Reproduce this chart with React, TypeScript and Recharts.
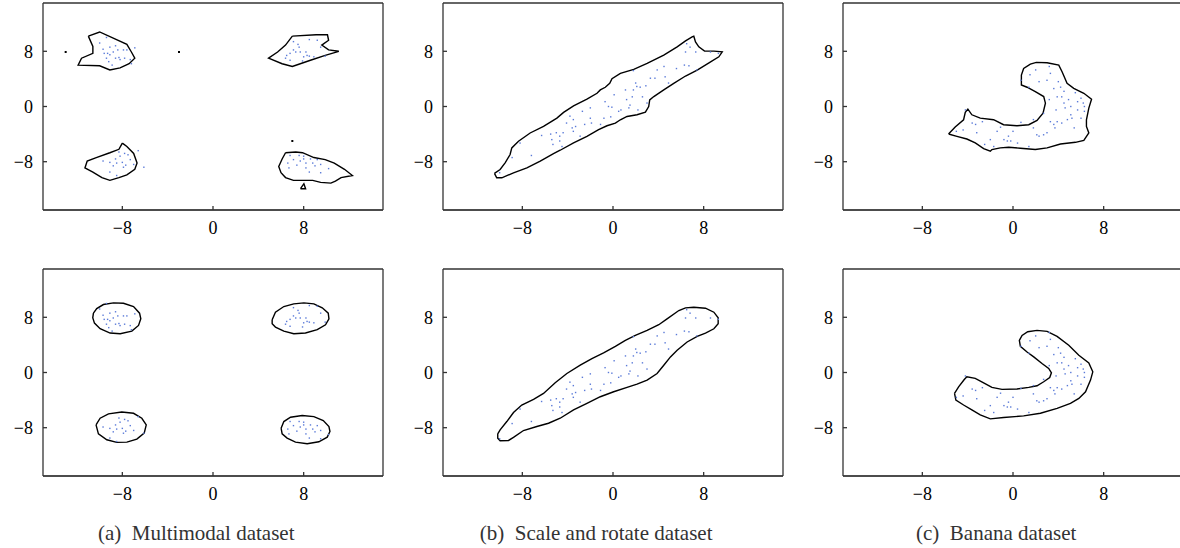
import React from 'react';
import { ScatterChart, Scatter, XAxis, YAxis } from 'recharts';

type P = { x: number; y: number };
const pts = (a: number[][]): P[] => a.map(([x, y]) => ({ x, y }));

const axisTicks = [-8, 0, 8];
const domainX: [number, number] = [-15, 15];
const domainY: [number, number] = [-15, 15];
const captions = ['(a)  Multimodal dataset', '(b)  Scale and rotate dataset', '(c)  Banana dataset'];

// ---------- sample points (shared by both rows) ----------
const multimodalDots = pts([
  [-10.0, 9.2], [-9.4, 10.0], [-9.7, 8.3], [-9.1, 8.6], [-8.6, 8.8], [-8.8, 7.9], [-8.4, 8.2], [-7.9, 8.2],
  [-7.6, 8.2], [-6.9, 8.5], [-9.6, 7.7], [-9.3, 7.7], [-9.1, 7.5], [-8.6, 7.0], [-8.2, 6.8], [-7.8, 7.0],
  [-7.3, 6.8], [-7.2, 6.2], [-9.4, 7.0], [-9.2, 6.5], [-8.9, 6.0], [-8.3, 7.1],
  [7.1, 9.4], [7.5, 9.0], [7.1, 8.2], [6.8, 7.7], [7.3, 7.9], [7.7, 7.9], [8.2, 7.9], [8.3, 7.4], [8.0, 7.2],
  [8.5, 7.3], [8.9, 7.2], [9.5, 8.6], [8.5, 9.7], [9.2, 9.6], [9.9, 7.3], [6.4, 7.0], [6.8, 6.7], [7.9, 6.6],
  [6.5, 7.4], [7.6, 8.6],
  [-6.6, -6.4], [-7.8, -6.8], [-8.2, -7.2], [-8.6, -7.6], [-9.1, -8.1], [-8.5, -8.2], [-8.0, -8.1],
  [-7.7, -8.5], [-7.9, -8.8], [-7.3, -7.7], [-7.0, -8.4], [-6.1, -8.8], [-9.1, -9.5], [-8.5, -10.0],
  [-9.7, -7.9], [-8.8, -8.6], [-8.3, -6.6], [-7.5, -7.0],
  [6.8, -7.1], [7.6, -7.1], [8.0, -7.2], [8.6, -7.6], [7.1, -7.7], [7.7, -7.9], [8.2, -8.2], [8.8, -8.2],
  [9.2, -7.7], [9.5, -8.4], [10.2, -9.0], [6.6, -8.2], [6.7, -8.9], [7.4, -8.5], [8.2, -8.9], [8.5, -9.5],
  [9.0, -8.6], [9.5, -9.6], [8.0, -7.6],
]);

const rotateDots = pts([
  [-10.0, -9.6], [-8.9, -7.4], [-8.2, -5.3], [-7.2, -7.1], [-6.3, -4.2], [-5.5, -4.0], [-5.4, -4.8],
  [-5.3, -5.5], [-5.0, -3.8], [-4.7, -4.3], [-4.7, -5.0], [-4.5, -5.8], [-4.4, -3.8], [-4.1, -2.4],
  [-3.8, -1.4], [-3.6, -3.1], [-3.5, -3.6], [-3.3, -2.9], [-2.9, -4.3], [-2.7, -0.7], [-2.5, -2.6],
  [-2.0, -0.2], [-2.0, -1.7], [-1.1, -2.6], [-0.8, -1.7], [-0.7, 0.7], [-0.4, 0.0], [-0.1, -0.1],
  [-0.2, -1.5], [0.1, 1.7], [0.5, -0.7], [0.7, -0.5], [1.1, 2.4], [1.2, 1.0], [1.5, 0.2], [1.7, 1.4],
  [1.8, 2.4], [2.0, 3.4], [2.1, 2.9], [2.2, -0.5], [2.4, 2.8], [2.6, 1.4], [2.9, 3.0], [3.0, 0.5],
  [3.3, 4.1], [3.7, 4.1], [3.9, 5.3], [4.5, 5.8], [4.6, 4.3], [4.9, 3.4], [5.6, 5.5], [6.3, 6.0],
  [6.4, 7.9], [6.5, 9.1], [6.7, 5.9], [6.8, 8.6], [7.3, 7.9], [7.4, 5.3], [8.6, 7.9], [9.3, 7.7],
  [1.8, 5.2], [1.4, -0.2], [-1.9, -2.4], [-3.5, -1.9],
]);

const bananaDots = pts([
  [-4.2, -0.5], [-5.0, -3.6], [-4.4, -3.4], [-3.6, -2.4], [-3.3, -2.6], [-3.2, -3.8], [-2.7, -2.2],
  [-2.5, -5.5], [-2.0, -4.8], [-1.7, -5.8], [-1.4, -3.6], [-1.1, -3.0], [-0.8, -4.8], [-0.5, -5.0],
  [-0.4, -4.3], [-0.2, -5.0], [0.0, -3.6], [0.4, -5.3], [0.7, -2.3], [1.4, -5.8], [1.8, -3.1],
  [2.1, -4.1], [2.3, -4.3], [2.7, -4.1], [3.0, -3.8], [3.3, -2.2], [3.6, -2.6], [3.7, -3.1],
  [3.9, -2.2], [4.3, -2.4], [4.8, -1.9], [5.2, -1.7], [5.4, -3.1], [1.8, -1.9], [0.7, 3.8],
  [1.4, 2.8], [1.5, 4.6], [2.0, 5.3], [2.3, 3.6], [3.0, 3.8], [3.2, 5.8], [3.3, 4.8], [3.6, 2.6],
  [4.0, 3.6], [4.2, 2.8], [4.3, 1.4], [4.5, 0.5], [4.6, -0.2], [4.9, 1.0], [5.1, 0.0], [5.5, 2.0],
  [5.7, 0.7], [6.0, 1.2], [6.2, 0.5], [6.3, 0.0], [6.3, -0.7], [5.7, -0.5], [6.0, -1.7], [4.5, 2.2],
  [3.9, 1.4], [3.8, -0.5], [5.1, -1.2], [2.7, -1.0], [3.2, 1.0],
]);

// ---------- contours, top row ----------
const mmTopA = pts([
  [-11.0, 10.2], [-10.0, 10.8], [-7.6, 9.0], [-7.2, 7.9], [-6.9, 7.0], [-7.4, 6.2], [-8.2, 5.6],
  [-9.1, 5.3], [-10.0, 5.9], [-11.9, 6.0], [-11.6, 7.0], [-10.6, 7.7], [-10.6, 8.7], [-11.0, 10.2],
]);
const mmTopB = pts([
  [7.0, 10.2], [9.1, 10.4], [10.1, 10.4], [10.2, 9.6], [9.6, 8.9], [10.2, 8.2], [11.1, 8.0], [9.9, 7.4],
  [8.6, 6.7], [7.7, 6.2], [7.0, 5.8], [6.1, 6.2], [4.9, 7.0], [5.7, 7.9], [6.4, 8.9], [7.0, 10.2],
]);
const mmTopC = pts([
  [-8.0, -5.3], [-7.6, -5.8], [-7.0, -6.8], [-6.7, -8.2], [-6.9, -9.1], [-7.6, -9.9], [-8.3, -10.3],
  [-9.1, -10.7], [-9.8, -10.3], [-10.6, -9.5], [-11.3, -8.9], [-11.1, -7.9], [-10.3, -7.4],
  [-9.1, -6.7], [-8.3, -6.2], [-8.0, -5.3],
]);
const mmTopD = pts([
  [6.4, -6.7], [7.3, -6.6], [7.9, -6.7], [8.9, -7.4], [9.9, -7.7], [10.7, -8.2], [11.6, -9.1],
  [12.3, -10.0], [11.3, -10.3], [10.8, -10.8], [10.4, -11.1], [9.5, -11.0], [8.8, -10.7], [7.1, -10.7],
  [6.4, -10.3], [6.0, -9.6], [5.8, -8.7], [6.1, -7.6], [6.4, -6.7],
]);
const mmTopTri = pts([[7.72, -11.91], [8.17, -11.91], [8.02, -11.19], [7.72, -11.91]]);
const mmTopSpecks = pts([[-13.0, 7.9], [-3.0, 7.9], [7.0, -5.0]]);

const rotTop = pts([
  [-10.46, -9.70], [-9.96, -9.13], [-9.52, -8.17], [-9.08, -6.96], [-8.93, -6.00], [-8.34, -5.04],
  [-7.31, -3.84], [-6.13, -2.88], [-4.95, -1.68], [-4.36, -0.86], [-3.48, 0.10], [-2.30, 1.06],
  [-1.41, 1.92], [-1.12, 2.40], [-0.68, 2.79], [-0.29, 3.36], [-0.09, 4.03], [0.65, 4.80], [1.83, 5.38],
  [3.01, 6.24], [4.48, 7.44], [5.66, 8.65], [6.40, 9.51], [6.98, 10.09], [7.13, 10.18], [7.28, 9.37],
  [7.57, 8.65], [8.08, 8.02], [8.90, 8.02], [9.64, 7.93], [9.34, 7.20], [8.61, 6.48], [7.43, 5.28],
  [6.40, 4.42], [5.36, 3.36], [4.48, 2.40], [3.60, 1.44], [3.24, 0.96], [3.15, 0.00], [2.86, -0.82],
  [2.12, -1.20], [1.24, -1.44], [0.65, -1.92], [0.21, -2.40], [-0.53, -2.79], [-1.27, -3.36],
  [-2.30, -4.32], [-3.48, -5.28], [-4.66, -6.34], [-5.25, -6.82], [-6.42, -7.93], [-7.60, -8.89],
  [-8.78, -9.61], [-9.81, -10.33], [-10.26, -10.33], [-10.46, -9.70],
]);

const banTop = pts([
  [-5.69, -3.99], [-5.10, -2.98], [-4.36, -1.92], [-4.21, -0.86], [-3.98, -0.38], [-3.63, -1.20],
  [-2.89, -1.68], [-1.71, -1.92], [-0.83, -2.64], [0.35, -2.79], [1.39, -2.64], [2.12, -2.02],
  [2.65, -0.96], [2.86, 0.48], [2.71, 1.44], [1.97, 2.16], [1.24, 2.79], [0.74, 3.12], [0.74, 4.56],
  [0.94, 5.52], [1.53, 6.15], [2.06, 6.39], [3.01, 6.34], [4.04, 6.00], [4.33, 5.04], [4.77, 3.36],
  [5.36, 2.64], [6.25, 1.92], [6.93, 1.06], [6.69, -0.24], [6.48, -1.92], [6.48, -2.88], [6.69, -3.84],
  [6.25, -4.90], [5.51, -5.19], [4.19, -5.43], [3.01, -6.00], [1.97, -6.24], [0.65, -6.05],
  [-0.38, -5.91], [-1.12, -6.00], [-1.86, -6.24], [-2.00, -6.48], [-2.59, -6.10], [-3.33, -5.28],
  [-4.07, -4.71], [-4.95, -4.32], [-5.69, -3.99],
]);

// ---------- contours, bottom row ----------
const mmBotA = pts([
  [-10.55, 8.60], [-10.26, 9.27], [-9.67, 9.85], [-8.78, 10.09], [-7.90, 10.04], [-7.01, 9.56],
  [-6.48, 8.60], [-6.37, 7.78], [-6.57, 6.82], [-7.16, 6.00], [-8.19, 5.62], [-9.08, 5.72],
  [-9.96, 6.34], [-10.46, 7.16], [-10.61, 7.93], [-10.55, 8.60],
]);
const mmBotB = pts([
  [5.22, 7.64], [5.51, 8.74], [6.25, 9.56], [7.13, 9.94], [8.02, 10.09], [8.90, 9.94], [9.64, 9.37],
  [10.17, 8.60], [10.23, 7.78], [9.93, 6.92], [9.20, 6.20], [8.16, 5.72], [7.13, 5.62], [6.25, 6.00],
  [5.51, 6.58], [5.22, 7.06], [5.22, 7.64],
]);
const mmBotC = pts([
  [-10.32, -7.59], [-9.96, -6.63], [-9.22, -6.00], [-8.05, -5.72], [-7.01, -5.91], [-6.28, -6.63],
  [-5.89, -7.59], [-6.07, -8.79], [-6.72, -9.65], [-7.60, -10.09], [-8.49, -10.13], [-9.37, -9.75],
  [-10.11, -8.89], [-10.32, -7.59],
]);
const mmBotD = pts([
  [6.01, -8.07], [6.25, -7.11], [6.84, -6.48], [7.87, -6.24], [8.90, -6.39], [9.73, -6.96],
  [10.23, -7.83], [10.32, -8.55], [10.08, -9.37], [9.34, -10.04], [8.31, -10.33], [7.28, -10.09],
  [6.54, -9.51], [6.10, -8.89], [6.01, -8.07],
]);

const rotBot = pts([
  [-10.17, -8.89], [-9.96, -8.31], [-9.37, -7.11], [-8.78, -5.81], [-8.05, -4.71], [-7.01, -3.89],
  [-6.13, -3.03], [-5.10, -1.49], [-4.07, -0.14], [-2.89, 1.06], [-1.86, 2.02], [-0.83, 2.83],
  [0.21, 3.79], [1.09, 4.66], [1.97, 5.38], [3.01, 6.10], [4.04, 6.92], [4.77, 7.78], [5.81, 8.98],
  [6.40, 9.37], [7.13, 9.46], [8.16, 9.32], [8.90, 8.74], [9.28, 7.93], [9.28, 7.06], [8.90, 6.34],
  [8.16, 5.72], [7.43, 5.24], [6.54, 4.42], [5.66, 3.22], [5.07, 2.26], [4.48, 1.06], [3.89, -0.14],
  [3.01, -1.10], [2.12, -1.68], [1.24, -2.16], [0.06, -2.79], [-1.12, -3.51], [-2.30, -4.47],
  [-3.48, -5.43], [-4.66, -6.63], [-5.69, -7.35], [-6.72, -7.83], [-7.90, -8.41], [-8.78, -9.41],
  [-9.22, -9.85], [-9.96, -9.89], [-10.17, -9.51], [-10.17, -8.89],
]);

const banBot = pts([
  [-5.16, -3.03], [-4.80, -2.07], [-4.30, -1.01], [-4.07, -0.62], [-3.33, -0.86], [-2.59, -1.49],
  [-1.86, -2.16], [-0.97, -2.45], [0.35, -2.40], [1.39, -2.16], [2.12, -1.92], [2.71, -1.34],
  [3.24, -0.72], [3.39, -0.05], [3.15, 0.58], [2.56, 1.30], [1.83, 2.26], [1.24, 2.98], [0.65, 3.79],
  [0.56, 4.66], [0.80, 5.38], [1.30, 5.91], [2.12, 6.10], [3.01, 5.96], [3.89, 5.24], [4.92, 3.94],
  [5.81, 2.50], [6.69, 1.39], [7.04, 0.10], [6.84, -1.10], [6.40, -2.79], [5.81, -3.75], [5.07, -4.47],
  [3.89, -5.19], [2.42, -5.91], [0.94, -6.29], [-0.83, -6.53], [-2.00, -6.72], [-2.89, -6.15],
  [-3.63, -5.43], [-4.36, -4.71], [-5.04, -3.99], [-5.16, -3.03],
]);

// ---------- layout ----------
const PLOT_W = 340;
const PLOT_H = 207;
const AX_L = 45;
const AX_B = 30;
const TOP_PAD = 5;
const colLeft = [42.7, 442.7, 842.7];
const rowTop = [3, 269];

const fmt = (v: number) => (v < 0 ? `\u2212${-v}` : `${v}`);
const serif = "'Liberation Serif', 'Times New Roman', Times, serif";
const tickFont = { fontFamily: serif, fontSize: 18, fill: '#000' };
const frame = { stroke: '#333', strokeWidth: 1.3 };

const Empty = () => <g />;
const Dot = (p: any) => (
  <rect x={p.cx - 0.7} y={p.cy - 0.7} width={1.4} height={1.4} fill="#5a7ad8" />
);
const Speck = (p: any) => <rect x={p.cx - 1} y={p.cy - 1} width={2} height={2} fill="#000" />;

type PanelProps = {
  left: number;
  top: number;
  contours: P[][];
  dots: P[];
  specks?: P[];
};

function Panel({ left, top, contours, dots, specks }: PanelProps) {
  const W = AX_L + PLOT_W + 1 + 4;
  const H = TOP_PAD + PLOT_H + AX_B;
  return (
    <div style={{ position: 'absolute', left: left - AX_L, top: top - TOP_PAD, width: W, height: H }}>
      <ScatterChart width={W} height={H} margin={{ top: TOP_PAD - 1, right: 4, bottom: 0, left: 0 }}>
        <XAxis
          xAxisId="b"
          dataKey="x"
          type="number"
          domain={domainX}
          ticks={axisTicks}
          interval={0}
          allowDataOverflow
          height={AX_B}
          tickSize={-4}
          tickMargin={15}
          tickFormatter={fmt}
          tick={tickFont}
          axisLine={{ stroke: '#111', strokeWidth: 1.4 }}
          tickLine={frame}
        />
        <XAxis
          xAxisId="t"
          orientation="top"
          dataKey="x"
          type="number"
          domain={domainX}
          ticks={axisTicks}
          interval={0}
          allowDataOverflow
          height={1}
          tickSize={-4}
          tick={false}
          axisLine={frame}
          tickLine={frame}
        />
        <YAxis
          yAxisId="l"
          dataKey="y"
          type="number"
          domain={domainY}
          ticks={axisTicks}
          interval={0}
          allowDataOverflow
          width={AX_L}
          tickSize={-4}
          tickMargin={14}
          tickFormatter={fmt}
          tick={tickFont}
          axisLine={frame}
          tickLine={frame}
        />
        <YAxis
          yAxisId="r"
          orientation="right"
          dataKey="y"
          type="number"
          domain={domainY}
          ticks={axisTicks}
          interval={0}
          allowDataOverflow
          width={1}
          tickSize={-4}
          tick={false}
          axisLine={frame}
          tickLine={frame}
        />
        <Scatter xAxisId="t" yAxisId="r" data={dots} shape={Empty} isAnimationActive={false} />
        {contours.map((c, i) => (
          <Scatter
            key={i}
            xAxisId="b"
            yAxisId="l"
            data={c}
            shape={Empty}
            line={{ stroke: '#000', strokeWidth: 1.4, fill: 'none' }}
            isAnimationActive={false}
          />
        ))}
        <Scatter xAxisId="b" yAxisId="l" data={dots} shape={Dot} isAnimationActive={false} />
        {specks ? (
          <Scatter xAxisId="b" yAxisId="l" data={specks} shape={Speck} isAnimationActive={false} />
        ) : null}
      </ScatterChart>
    </div>
  );
}

export default function App() {
  const panels: PanelProps[] = [
    { left: colLeft[0], top: rowTop[0], contours: [mmTopA, mmTopB, mmTopC, mmTopD, mmTopTri], dots: multimodalDots, specks: mmTopSpecks },
    { left: colLeft[1], top: rowTop[0], contours: [rotTop], dots: rotateDots },
    { left: colLeft[2], top: rowTop[0], contours: [banTop], dots: bananaDots },
    { left: colLeft[0], top: rowTop[1], contours: [mmBotA, mmBotB, mmBotC, mmBotD], dots: multimodalDots },
    { left: colLeft[1], top: rowTop[1], contours: [rotBot], dots: rotateDots },
    { left: colLeft[2], top: rowTop[1], contours: [banBot], dots: bananaDots },
  ];
  return (
    <div
      style={{
        position: 'absolute',
        left: 0,
        top: 0,
        width: 1180,
        height: 548,
        overflow: 'hidden',
        background: '#fff',
      }}
    >
      {panels.map((p, i) => (
        <Panel key={i} {...p} />
      ))}
      {captions.map((c, i) => {
        const cx = (colLeft[i] - 33 + colLeft[i] + PLOT_W) / 2;
        return (
          <div
            key={c}
            style={{
              position: 'absolute',
              left: cx - 200,
              width: 400,
              top: 520,
              textAlign: 'center',
              fontFamily: serif,
              fontSize: 21,
              lineHeight: '26px',
              color: '#333',
              whiteSpace: 'pre',
            }}
          >
            {c}
          </div>
        );
      })}
    </div>
  );
}
